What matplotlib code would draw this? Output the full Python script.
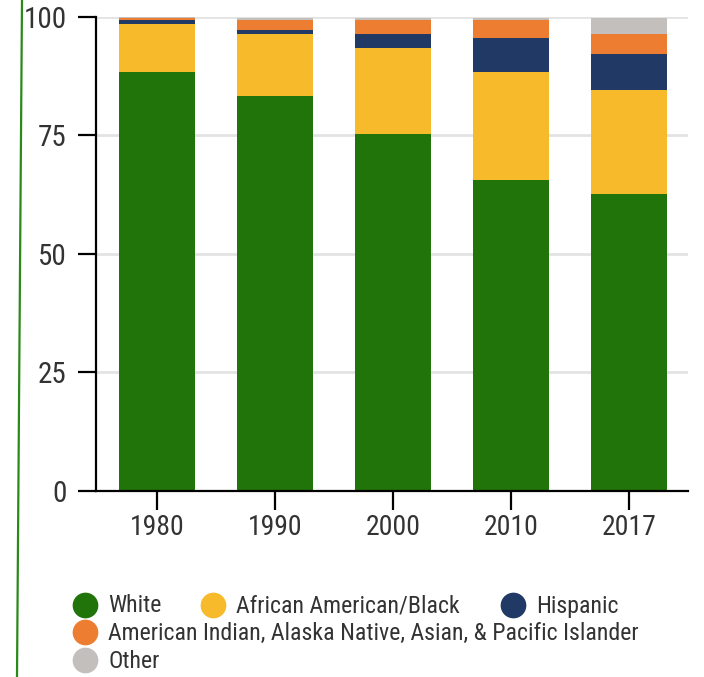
import matplotlib
matplotlib.use('Agg')
import matplotlib.pyplot as plt
from matplotlib import font_manager
from matplotlib.lines import Line2D

# fonte: tenta uma condensada, senao Roboto
nomes = [f.name for f in font_manager.fontManager.ttflist]
fonte = 'Roboto'
for nome in ['Roboto Condensed', 'Liberation Sans Narrow', 'Roboto']:
    if nome in nomes:
        fonte = nome
        break
plt.rcParams['font.family'] = [fonte, 'DejaVu Sans']

# dados
anos = ['1980', '1990', '2000', '2010', '2017']
grupos = ['White', 'African American/Black', 'Hispanic',
          'American Indian, Alaska Native, Asian, & Pacific Islander', 'Other']
white = [88.4, 83.3, 75.3, 65.6, 62.6]
black = [10.1, 13.1, 18.1, 22.7, 21.9]
hispanic = [0.8, 0.8, 3.0, 7.2, 7.6]
outros_asia = [0.4, 2.1, 2.9, 3.8, 4.3]
other = [0.3, 0.4, 0.4, 0.4, 3.3]
series = [white, black, hispanic, outros_asia, other]
cores = ['#21740a', '#f6ba2b', '#213965', '#ed7e31', '#c3bfbc']

fig = plt.figure(figsize=(7.04, 6.77), dpi=100)
ax = fig.add_axes([96/704, (677-491)/677, (688-96)/704, (491-16.7)/677])

base = [0] * len(anos)
x = list(range(len(anos)))
for valores, cor in zip(series, cores):
    ax.bar(x, valores, bottom=base, width=0.644, color=cor, zorder=2)
    base = [b + v for b, v in zip(base, valores)]

ax.set_xlim(-0.52, 4.5)
ax.set_ylim(0, 100)
ax.set_yticks([0, 25, 50, 75, 100])
ax.set_xticks(x)
ax.set_xticklabels(anos)
ax.grid(axis='y', color='#e3e3e3', linewidth=2, zorder=0)
ax.set_axisbelow(True)

for lado in ['top', 'right']:
    ax.spines[lado].set_visible(False)
for lado in ['left', 'bottom']:
    ax.spines[lado].set_linewidth(1.6)
    ax.spines[lado].set_color('black')
    ax.spines[lado].set_zorder(3)

ax.tick_params(axis='y', length=13, width=1.6, pad=8, labelsize=21, labelcolor='#333333')
ax.tick_params(axis='x', length=13.5, width=1.6, pad=3, labelsize=20, labelcolor='#333333')

# legenda desenhada a mao (layout em fluxo)
itens = [(85, 108, 605), (213, 236, 605), (513, 536, 605), (85, 108, 632), (85, 108, 660)]
for (cx, tx, ty), nome, cor in zip(itens, grupos, cores):
    fig.add_artist(Line2D([cx/704], [1 - ty/677], marker='o', markersize=17.5,
                          color=cor, linestyle='none'))
    fig.text(tx/704, 1 - (ty + 1)/677, nome, fontsize=17.2, color='#333333', va='center')

# linha verde da esquerda
fig.add_artist(Line2D([22/704, 17/704], [1, 0], color='#2a8a18', linewidth=1.6))

plt.savefig('out.png', dpi=100)
